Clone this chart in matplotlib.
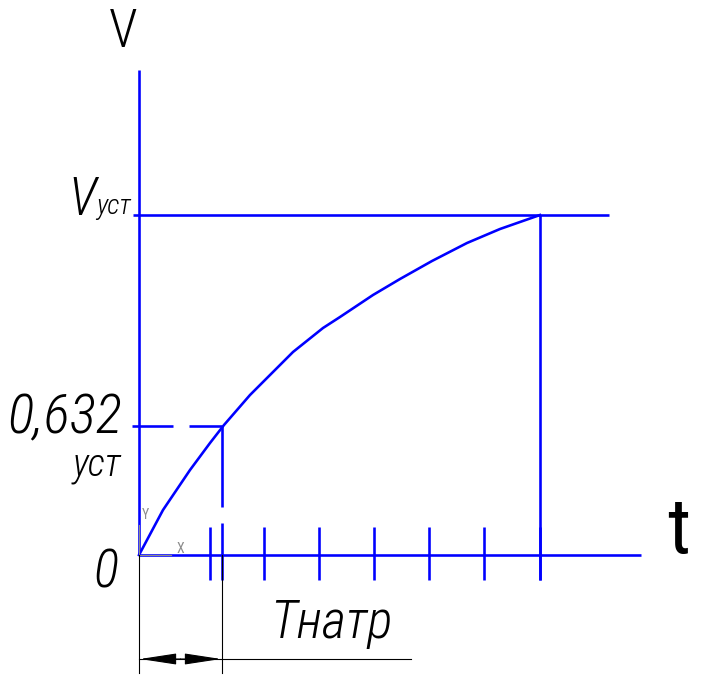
import matplotlib
matplotlib.use('Agg')
import matplotlib.pyplot as plt
from matplotlib import font_manager

# drawing units: pixels measured from the origin of the graph (t right, V up)
T_nagr = 83                                   # time constant mark
t_ticks = [71, 125, 180, 235, 290, 345, 401]  # tick marks on the t axis
V_ust = 340                                   # steady value
V_632 = 129                                   # 0.632 level

# heating curve
curve_t = [0, 24, 51, 71, 85, 111, 134, 154, 184, 201, 234, 261, 293, 328, 361, 401]
curve_v = [0, 45, 85, 112, 130, 160, 183, 203, 227, 238, 260, 276, 294, 312, 326, 340]

t_axis_end = 502
v_axis_end = 485

BLUE = '#0000ff'
DPI = 100
PX = 72.0 / DPI   # one pixel in points

plt.rcParams['lines.scale_dashes'] = False

# narrow font to look like the drawing font, if there is one
have = set(f.name for f in font_manager.fontManager.ttflist)
wanted = ['Roboto Condensed', 'PT Sans Narrow', 'Fira Sans Condensed',
          'Liberation Sans Narrow', 'Liberation Sans']
FONT = [n for n in wanted if n in have] + ['DejaVu Sans']

fig = plt.figure(figsize=(7.01, 6.87), dpi=DPI)
ax = fig.add_axes([0, 0, 1, 1])
ax.set_xlim(-139, 701 - 139)
ax.set_ylim(-(687 - 555), 555)
ax.axis('off')

lw = 2.6 * PX
thin = 1.1 * PX

# axes
ax.plot([0, 0], [0, v_axis_end], color=BLUE, lw=lw, solid_capstyle='butt')
ax.plot([0, t_axis_end], [0, 0], color=BLUE, lw=lw, solid_capstyle='butt')

# tick marks
for tk in t_ticks:
    ax.plot([tk, tk], [-25, 28], color=BLUE, lw=lw, solid_capstyle='butt')

# steady level and its vertical
ax.plot([-6, 470], [V_ust, V_ust], color=BLUE, lw=lw, solid_capstyle='butt')
ax.plot([t_ticks[-1], t_ticks[-1]], [-25, V_ust], color=BLUE, lw=lw, solid_capstyle='butt')

# 0.632 level, dashed
ax.plot([T_nagr, -7], [V_632, V_632], color=BLUE, lw=lw, dash_capstyle='butt',
        dashes=(33 * PX, 16 * PX, 300 * PX, 10 * PX))
ax.plot([T_nagr, T_nagr], [V_632, -25], color=BLUE, lw=lw, dash_capstyle='butt',
        dashes=(81 * PX, 16 * PX, 300 * PX, 10 * PX))

# curve
ax.plot(curve_t, curve_v, color=BLUE, lw=lw, solid_joinstyle='round')

# small UCS icon at the origin
ax.plot([0, 0], [0, 30], color='0.55', lw=thin)
ax.plot([0, 32], [0, 0], color='0.55', lw=thin)
ax.text(6, 40, 'Y', color='0.55', fontsize=10, ha='center', va='center', family=FONT)
ax.text(41, 6, 'X', color='0.55', fontsize=10, ha='center', va='center', family=FONT)

# dimension T
ax.plot([0, 0], [0, -118], color='black', lw=thin)
ax.plot([T_nagr, T_nagr], [0, -118], color='black', lw=thin)
ax.plot([0, 272], [-104, -104], color='black', lw=thin)
for tip in (1, T_nagr - 1):
    ax.annotate('', xy=(tip, -104), xytext=(T_nagr / 2, -104),
                arrowprops=dict(arrowstyle='-|>,head_length=2.3,head_width=0.35',
                                color='black', lw=thin, shrinkA=0, shrinkB=0))

# labels
txt = dict(family=FONT, va='baseline')
ax.text(-16, 508, 'V', fontsize=38, ha='center', fontweight='light', **txt)
ax.text(540, 2, 't', fontsize=56, ha='center', fontweight='normal', **txt)
ax.text(-71, V_ust, 'V', fontsize=38, style='italic', ha='left', fontweight='light', **txt)
ax.text(-43, V_ust + 1, 'уст', fontsize=20, style='italic', ha='left', fontweight='light', **txt)
ax.text(-132, V_632 - 7, '0,632', fontsize=40, style='italic', ha='left', fontweight='light', **txt)
ax.text(-66, 79, 'уст', fontsize=28, style='italic', ha='left', fontweight='light', **txt)
ax.text(-46, -32, '0', fontsize=38, style='italic', ha='left', fontweight='light', **txt)
ax.text(131, -83, 'Тнатр', fontsize=38, style='italic', ha='left', fontweight='light', **txt)

fig.savefig('out.png', dpi=DPI)
